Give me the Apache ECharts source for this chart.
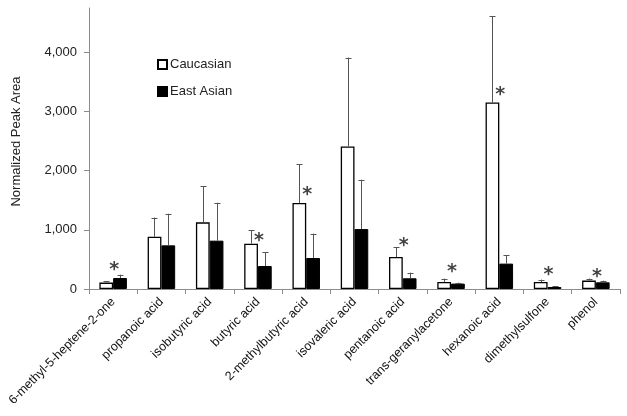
<!DOCTYPE html>
<html>
<head>
<meta charset="utf-8">
<script src="https://cdn.jsdelivr.net/npm/echarts@6/dist/echarts.min.js"></script>
<style>
html,body{margin:0;padding:0;background:#fff;}
#chart{width:627px;height:416px;}
</style>
</head>
<body>
<div id="chart"></div>
<script>
var categories = ['6-methyl-5-heptene-2-one','propanoic acid','isobutyric acid','butyric acid','2-methylbutyric acid','isovaleric acid','pentanoic acid','trans-geranylacetone','hexanoic acid','dimethylsulfone','phenol'];
var caucasian = [108, 885, 1127, 767, 1453, 2410, 540, 118, 3153, 118, 142];
var caucasianUpper = [135, 1206, 1740, 997, 2111, 3913, 709, 176, 4611, 159, 176];
var eastAsian = [186, 738, 817, 389, 524, 1013, 181, 91, 429, 34, 113];
var eastAsianUpper = [243, 1273, 1459, 620, 936, 1848, 277, 108, 569, 45, 142];
var starCats = [0, 3, 4, 6, 7, 8, 9, 10];
var starValues = [400, 895, 1672, 811, 372, 3360, 328, 294];
var yTicks = [0, 1000, 2000, 3000, 4000];

var FONT = 'Liberation Sans';
var chart = echarts.init(document.getElementById('chart'), null, {renderer: 'canvas'});

function errData(vals, upper) {
  return vals.map(function (v, i) { return [i, v, upper[i]]; });
}
function errSeries(name, data, side) {
  return {
    type: 'custom',
    name: name + ' err',
    data: data,
    z: 5,
    silent: true,
    renderItem: function (params, api) {
      var idx = api.value(0);
      var bw = api.size([1, 0])[0];
      var off = side * bw * 0.145;
      var p0 = api.coord([idx, api.value(1)]);
      var p1 = api.coord([idx, api.value(2)]);
      var x = Math.round(p0[0] + off) + 0.5;
      var st = {stroke: '#555', lineWidth: 1};
      return {
        type: 'group',
        children: [
          {type: 'line', shape: {x1: x, y1: p0[1], x2: x, y2: p1[1]}, style: st},
          {type: 'line', shape: {x1: x - 3, y1: Math.round(p1[1]) + 0.5, x2: x + 3, y2: Math.round(p1[1]) + 0.5}, style: st}
        ]
      };
    }
  };
}

var option = {
  animation: false,
  backgroundColor: '#fff',
  grid: {left: 89, right: 7, top: 8, bottom: 127, containLabel: false},
  legend: {
    orient: 'vertical',
    left: 152, top: 53,
    itemWidth: 9, itemHeight: 9, itemGap: 14,
    icon: 'rect',
    data: ['Caucasian', 'East Asian'],
    textStyle: {fontFamily: FONT, fontSize: 13, color: '#222', padding: [0, 0, 0, -2]}
  },
  xAxis: {
    type: 'category',
    data: categories,
    axisLine: {lineStyle: {color: '#8c8c8c', width: 1}},
    axisTick: {show: true, alignWithLabel: false, length: 5, lineStyle: {color: '#8c8c8c'}},
    axisLabel: {interval: 0, rotate: 45, fontFamily: FONT, fontSize: 12.5, color: '#111', margin: 11}
  },
  yAxis: {
    type: 'value',
    min: 0, max: 4750,
    name: 'Normalized Peak Area',
    nameLocation: 'middle',
    nameGap: 66,
    nameTextStyle: {fontFamily: FONT, fontSize: 13, color: '#222', padding: [0, 0, 0, 14]},
    splitLine: {show: false},
    axisLine: {show: true, lineStyle: {color: '#8c8c8c', width: 1}},
    axisTick: {show: true, length: 5, lineStyle: {color: '#8c8c8c'}, customValues: yTicks},
    axisLabel: {
      fontFamily: FONT, fontSize: 13, color: '#222', margin: 12,
      customValues: yTicks,
      formatter: function (v) { return v.toLocaleString('en-US'); }
    }
  },
  series: [
    {
      type: 'bar', name: 'Caucasian', data: caucasian,
      barWidth: '28.5%', barGap: '0%',
      itemStyle: {color: '#ffffff', borderColor: '#000', borderWidth: 1.3}
    },
    {
      type: 'bar', name: 'East Asian', data: eastAsian,
      barWidth: '28.5%', barGap: '0%',
      itemStyle: {color: '#000000', borderColor: '#000', borderWidth: 1}
    },
    errSeries('Caucasian', errData(caucasian, caucasianUpper), -1),
    errSeries('East Asian', errData(eastAsian, eastAsianUpper), 1),
    {
      type: 'scatter',
      name: 'sig',
      data: starCats.map(function (c, i) { return [c, starValues[i]]; }),
      symbol: 'circle', symbolSize: 2,
      itemStyle: {color: 'rgba(0,0,0,0)'},
      z: 10,
      label: {
        show: true, position: 'inside', formatter: '*',
        fontFamily: 'DejaVu Sans', fontWeight: 'bold', fontSize: 19, color: '#111', offset: [1, 5]
      }
    }
  ]
};
chart.setOption(option);
</script>
</body>
</html>
